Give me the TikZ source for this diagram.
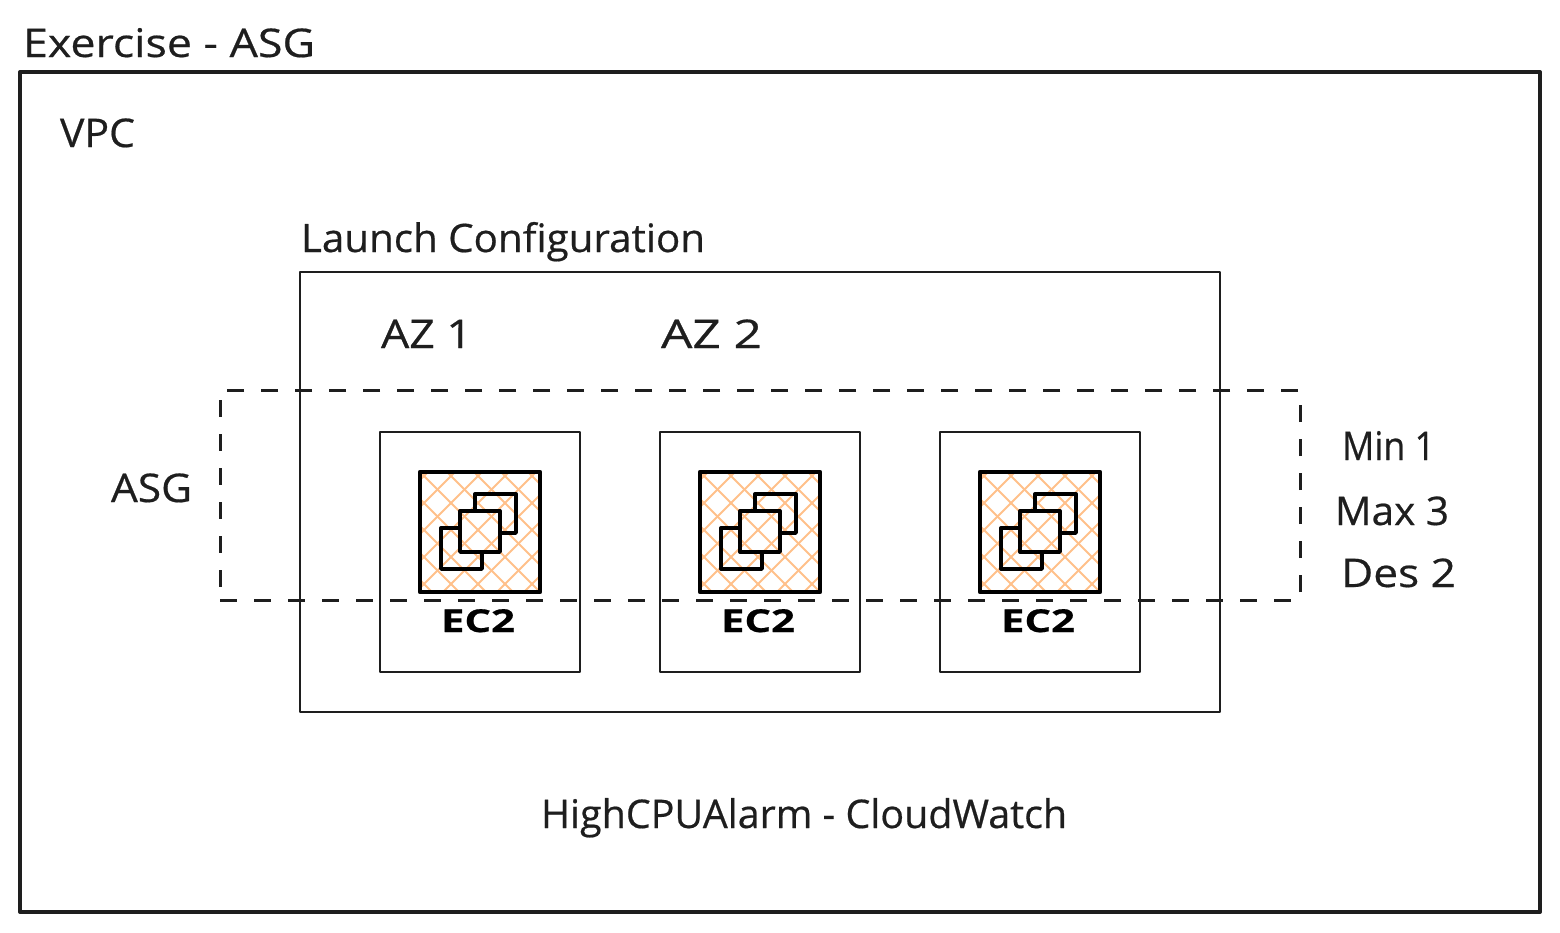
\documentclass[tikz,border=0pt]{standalone}
\usepackage{graphicx}
\usepackage{fontspec}
\setmainfont{Open Sans}[FakeBold=0.5]
\definecolor{ink}{HTML}{1E1E1E}
\definecolor{hatch}{HTML}{FFC08A}
\newcommand{\fitw}[3][30pt]{\resizebox{#2pt}{#1}{\vphantom{l}#3}}
\tikzset{
  box/.style={draw=ink,anchor=north west,inner sep=0pt,outer sep=0pt,line join=round},
  thinbox/.style={box,line width=1.5pt},
  lbl/.style={text=ink,anchor=base west,inner sep=0pt,outer sep=0pt},
  icon/.style={black,line width=3.4pt,line join=round,line cap=round},
}
\begin{document}
\begin{tikzpicture}[x=1pt,y=-1pt]
\useasboundingbox (0,0) rectangle (1560,932);
\node[box,line width=4pt,minimum width=1520pt,minimum height=840pt] (vpc) at (20,72) {};
\node[thinbox,minimum width=920pt,minimum height=440pt] (lc) at (300,272) {};
\foreach \n/\x in {a/380,b/660,c/940}{
  \node[thinbox,minimum width=200pt,minimum height=240pt] (az\n) at (\x,432) {};
  \begin{scope}[shift={(\x-380,0)}]
    \begin{scope}
      \clip (420,472) rectangle (540,592);
      \foreach \k in {-8,...,8}{
        \draw[hatch,line width=2pt] (478+\k*27-130,532-132) -- (478+\k*27+130,532+128);
        \draw[hatch,line width=2pt] (478+\k*27+130,532-132) -- (478+\k*27-130,532+128);
      }
    \end{scope}
    \draw[icon] (475,511) -- (475,494) -- (516,494) -- (516,533) -- (500,533);
    \draw[icon] (460,528) -- (441,528) -- (441,569) -- (482,569) -- (482,552);
    \draw[icon] (460,511) rectangle (500,552);
    \draw[icon,line width=4.5pt] (420,472) rectangle (540,592);
  \end{scope}
  \node[lbl,text=black] (ec\n) at (\x+61,632) {\fitw[24pt]{74}{\bfseries EC2}};
}
\node[box,line width=3pt,dash pattern=on 17pt off 17pt,minimum width=1080pt,minimum height=210pt] (asg) at (220,390) {};
\node[lbl] (title) at (23,57) {\fitw{292}{Exercise - ASG}};
\node[lbl] (vpct) at (60,147) {\fitw{75}{VPC}};
\node[lbl] (lct) at (301,252) {\fitw{404}{Launch Configuration}};
\node[lbl] (az1) at (381,348) {\fitw{91}{AZ 1}};
\node[lbl] (az2) at (661,348) {\fitw{101}{AZ 2}};
\node[lbl] (asgt) at (111,502) {\fitw{81}{ASG}};
\node[lbl] (min) at (1342,460) {\fitw{93}{Min 1}};
\node[lbl] (max) at (1335,525) {\fitw{114}{Max 3}};
\node[lbl] (des) at (1341,587) {\fitw{115}{Des 2}};
\node[lbl] (alarm) at (541,828) {\fitw{526}{HighCPUAlarm - CloudWatch}};
\end{tikzpicture}
\end{document}
